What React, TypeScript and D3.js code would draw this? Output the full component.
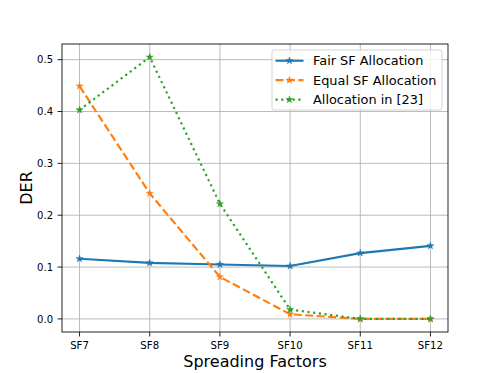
import React from "react";
import * as d3 from "d3";

const categories = ["SF7", "SF8", "SF9", "SF10", "SF11", "SF12"];
const fairSF = [0.116, 0.108, 0.105, 0.102, 0.127, 0.141];
const equalSF = [0.449, 0.242, 0.081, 0.009, 0.0, 0.0];
const alloc23 = [0.403, 0.505, 0.222, 0.018, 0.0, 0.0];
const yTicks = [0.0, 0.1, 0.2, 0.3, 0.4, 0.5];
const seriesNames = ["Fair SF Allocation", "Equal SF Allocation", "Allocation in [23]"];

const W = 498, H = 373;
const left = 62, right = 448, top = 44, bottom = 332;
const pt = 1.08;
const lwid = 2 * pt;

function starPath(cx: number, cy: number, r: number) {
  const ri = r * 0.381966;
  const pts: string[] = [];
  for (let i = 0; i < 10; i++) {
    const a = (Math.PI / 5) * i - Math.PI / 2;
    const rr = i % 2 === 0 ? r : ri;
    pts.push(`${(cx + rr * Math.cos(a)).toFixed(2)},${(cy + rr * Math.sin(a)).toFixed(2)}`);
  }
  return "M" + pts.join("L") + "Z";
}

export default function App() {
  const x = d3.scaleLinear().domain([-0.25, 5.25]).range([left, right]);
  const y = d3.scaleLinear().domain([-0.02525, 0.53025]).range([bottom, top]);
  const series = [
    { name: seriesNames[0], values: fairSF, color: "#1f77b4", dash: "none" },
    { name: seriesNames[1], values: equalSF, color: "#ff7f0e", dash: `${3.7 * lwid},${1.6 * lwid}` },
    { name: seriesNames[2], values: alloc23, color: "#2ca02c", dash: `${1 * lwid},${1.65 * lwid}` },
  ];
  const line = d3.line<number>().x((_, i) => x(i)).y((d) => y(d));
  const font = "DejaVu Sans, sans-serif";
  const mr = 3.7;
  const lx = 272, ly = 50, lw = 170, lh = 60;
  return (
    <svg width={W} height={H} style={{ display: "block", position: "absolute", left: 0, top: 0 }} fontFamily={font}>
      <rect x={0} y={0} width={W} height={H} fill="#fff" />
      {categories.map((c, i) => (
        <line key={"gx" + c} x1={x(i)} x2={x(i)} y1={top} y2={bottom} stroke="#b0b0b0" strokeWidth={0.8 * pt} />
      ))}
      {yTicks.map((t) => (
        <line key={"gy" + t} x1={left} x2={right} y1={y(t)} y2={y(t)} stroke="#b0b0b0" strokeWidth={0.8 * pt} />
      ))}
      {series.map((s) => (
        <g key={s.name}>
          <path d={line(s.values) || ""} fill="none" stroke={s.color} strokeWidth={lwid} strokeDasharray={s.dash} />
          {s.values.map((v, i) => (
            <path key={i} d={starPath(x(i), y(v), mr)} fill={s.color} stroke={s.color} strokeWidth={0.5} />
          ))}
        </g>
      ))}
      <rect x={left} y={top} width={right - left} height={bottom - top} fill="none" stroke="#000" strokeWidth={0.8 * pt} />
      {yTicks.map((t) => (
        <g key={"ty" + t}>
          <line x1={left - 4.5} x2={left} y1={y(t)} y2={y(t)} stroke="#000" strokeWidth={0.8 * pt} />
          <text x={left - 9} y={y(t)} dy="0.36em" textAnchor="end" fontSize={10} fill="#000">{t.toFixed(1)}</text>
        </g>
      ))}
      {categories.map((c, i) => (
        <g key={"tx" + c}>
          <line x1={x(i)} x2={x(i)} y1={bottom} y2={bottom + 4.5} stroke="#000" strokeWidth={0.8 * pt} />
          <text x={x(i)} y={349} textAnchor="middle" fontSize={10.2} fill="#000">{c}</text>
        </g>
      ))}
      <text x={(left + right) / 2} y={367} textAnchor="middle" fontSize={16} fill="#000">Spreading Factors</text>
      <text transform={`translate(32,${(top + bottom) / 2}) rotate(-90)`} textAnchor="middle" fontSize={16} fill="#000">DER</text>
      <rect x={lx} y={ly} width={lw} height={lh} rx={2} fill="#fff" fillOpacity={0.8} stroke="#cccccc" strokeWidth={0.8 * pt} />
      {series.map((s, i) => {
        const yy = ly + 10.7 + i * 19.5;
        return (
          <g key={"lg" + s.name}>
            <line x1={lx + 3.5} x2={lx + 31.5} y1={yy} y2={yy} stroke={s.color} strokeWidth={lwid} strokeDasharray={s.dash} />
            <path d={starPath(lx + 17.5, yy, mr)} fill={s.color} stroke={s.color} strokeWidth={0.5} />
            <text x={lx + 41} y={yy} dy="0.36em" fontSize={12.9} fill="#000">{s.name}</text>
          </g>
        );
      })}
    </svg>
  );
}
